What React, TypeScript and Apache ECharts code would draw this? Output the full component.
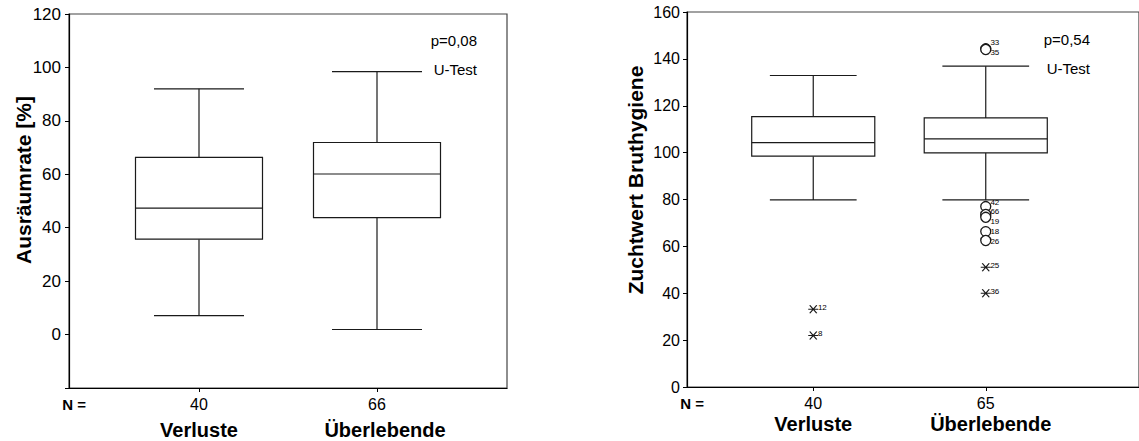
import React, { useEffect, useRef } from "react";
import * as echarts from "echarts";

const categories = ["Verluste", "Überlebende"];
const removalN = ["40", "66"];
const breedN = ["40", "65"];

// [min whisker, Q1, median, Q3, max whisker]
const removalVerluste = [7.1, 35.7, 47.3, 66.3, 92.0];
const removalUeberlebende = [1.9, 43.8, 60.1, 71.9, 98.4];
const breedVerluste = [79.8, 98.5, 104.3, 115.4, 132.9];
const breedUeberlebende = [79.8, 99.9, 105.9, 114.8, 136.9];

// outliers (circles) and extremes (asterisks): [category index, value, case label]
const breedOutliers: [number, number, string][] = [
  [1, 144.3, "33"],
  [1, 144.0, "35"],
  [1, 77.0, "42"],
  [1, 73.6, "66"],
  [1, 72.4, "19"],
  [1, 66.3, "18"],
  [1, 62.5, "26"],
];
const breedExtremes: [number, number, string][] = [
  [0, 33.2, "12"],
  [0, 22.0, "8"],
  [1, 51.1, "25"],
  [1, 40.0, "36"],
];

const removalTicks = [0, 20, 40, 60, 80, 100, 120];
const breedTicks = [0, 20, 40, 60, 80, 100, 120, 140, 160];

const FONT = "'Liberation Sans', Arial, Helvetica, sans-serif";
const STROKE = "#1a1a1a";

function makeBoxRender(boxFrac: number, capFrac: number) {
  return (params: any, api: any) => {
    const x = api.value(0);
    const lo = api.coord([x, api.value(1)]);
    const q1 = api.coord([x, api.value(2)]);
    const md = api.coord([x, api.value(3)]);
    const q3 = api.coord([x, api.value(4)]);
    const hi = api.coord([x, api.value(5)]);
    const band = api.size([1, 0])[0];
    const bw = band * boxFrac;
    const cw = band * capFrac;
    const cx = lo[0];
    const st = { stroke: STROKE, lineWidth: 1.2 };
    return {
      type: "group",
      children: [
        { type: "line", shape: { x1: cx, y1: hi[1], x2: cx, y2: q3[1] }, style: st },
        { type: "line", shape: { x1: cx, y1: q1[1], x2: cx, y2: lo[1] }, style: st },
        { type: "line", shape: { x1: cx - cw / 2, y1: hi[1], x2: cx + cw / 2, y2: hi[1] }, style: st },
        { type: "line", shape: { x1: cx - cw / 2, y1: lo[1], x2: cx + cw / 2, y2: lo[1] }, style: st },
        {
          type: "rect",
          shape: { x: cx - bw / 2, y: q3[1], width: bw, height: q1[1] - q3[1] },
          style: { fill: "#fff", stroke: STROKE, lineWidth: 1.2 },
        },
        { type: "line", shape: { x1: cx - bw / 2, y1: md[1], x2: cx + bw / 2, y2: md[1] }, style: st },
      ],
    };
  };
}

const STAR = "path://M0,5L10,5M1.5,0.5L8.5,9.5M1.5,9.5L8.5,0.5";

// small per-label vertical nudges (px) so that crowded case numbers stay readable
const labelNudge: Record<string, number> = {
  "33": -6,
  "35": 3,
  "42": -4.5,
  "66": -3.5,
  "19": 3.7,
  "18": -0.6,
  "26": 0.5,
};

export default function App() {
  const ref = useRef<HTMLDivElement>(null);

  useEffect(() => {
    document.body.style.margin = "0";
    const chart = echarts.init(ref.current!, null, { renderer: "svg" });

    const hiddenY = (min: number, max: number, grid: number) => ({
      type: "value",
      gridIndex: grid,
      min,
      max,
      show: false,
      splitLine: { show: false },
    });

    const frameX = (grid: number) => ({
      type: "value",
      gridIndex: grid,
      min: 0,
      max: 1,
      axisLine: { show: true, onZero: false, lineStyle: { color: "#000", width: 1.2 } },
      axisTick: { show: false },
      axisLabel: { show: false },
      splitLine: { show: false },
    });

    const catX = (grid: number, counts: string[], nameLH: number, shift: number) => ({
      type: "category",
      gridIndex: grid,
      data: categories,
      boundaryGap: true,
      axisLine: { show: false, onZero: false },
      axisTick: {
        show: true,
        alignWithLabel: true,
        length: 4,
        lineStyle: { color: "#000", width: 1 },
      },
      axisLabel: {
        margin: 6,
        interval: 0,
        formatter: (v: string, i: number) => `{n|${counts[i]}}\n{c${i}|${v}}`,
        rich: {
          n: { fontFamily: FONT, fontSize: 16, lineHeight: 20, color: "#000" },
          c0: {
            fontFamily: FONT,
            fontSize: 20,
            fontWeight: "bold",
            lineHeight: nameLH,
            color: "#000",
          },
          c1: {
            fontFamily: FONT,
            fontSize: 20,
            fontWeight: "bold",
            lineHeight: nameLH,
            color: "#000",
            padding: [0, 0, 0, shift],
          },
        },
      },
      splitLine: { show: false },
    });

    const valueY = (grid: number, min: number, max: number, ticks: number[], fs: number, margin: number) => ({
      type: "value",
      gridIndex: grid,
      min,
      max,
      interval: 20,
      axisLine: { show: true, onZero: false, lineStyle: { color: "#000", width: 1.2 } },
      axisTick: { show: true, length: 4, inside: false, lineStyle: { color: "#000" } },
      axisLabel: {
        margin,
        fontFamily: FONT,
        fontSize: fs,
        color: "#000",
        formatter: (v: number) => (ticks.indexOf(v) >= 0 ? String(v) : ""),
      },
      splitLine: { show: false },
    });

    const text = (x: number, y: number, t: string, fs: number, extra: any = {}, rotation = 0) => ({
      type: "text",
      x,
      y,
      rotation,
      silent: true,
      style: {
        text: t,
        fontFamily: FONT,
        fontSize: fs,
        fill: "#000",
        align: "right",
        verticalAlign: "middle",
        ...extra,
      },
    });

    const outlierLabel = {
      show: true,
      position: "right",
      distance: 0,
      fontFamily: FONT,
      fontSize: 8,
      lineHeight: 8,
      color: "#000",
      textBorderWidth: 0,
      formatter: (p: any) => (Array.isArray(p.value) ? p.value[2] : ""),
    };

    const toItems = (rows: [number, number, string][]) =>
      rows.map((r) => ({
        value: r,
        label: {
          color: "#000",
          offset: [-1, labelNudge[r[2]] !== undefined ? labelNudge[r[2]] : -2],
        },
      }));

    chart.setOption({
      animation: false,
      backgroundColor: "#fff",
      grid: [
        { left: 69, top: 14, width: 438, height: 374, show: true, borderColor: "#444", borderWidth: 1.2, backgroundColor: "transparent" },
        { left: 110, top: 14, width: 356, height: 374 },
        { left: 687, top: 12, width: 520, height: 375, show: true, borderColor: "#444", borderWidth: 1.2, backgroundColor: "transparent" },
        { left: 727, top: 12, width: 345, height: 375 },
      ],
      xAxis: [frameX(0), catX(1, removalN, 32, 16), frameX(2), catX(3, breedN, 22, 10)],
      yAxis: [
        valueY(0, -20, 120, removalTicks, 17, 8),
        hiddenY(-20, 120, 1),
        valueY(2, 0, 160, breedTicks, 16, 7),
        hiddenY(0, 160, 3),
      ],
      graphic: [
        text(74, 404, "N =", 15, { align: "center", fontWeight: "bold" }),
        text(692, 403, "N =", 15, { align: "center", fontWeight: "bold" }),
        text(23, 180, "Ausräumrate [%]", 21, { align: "center", fontWeight: "bold" }, Math.PI / 2),
        text(635, 180, "Zuchtwert Bruthygiene", 21, { align: "center", fontWeight: "bold" }, Math.PI / 2),
        text(477, 40, "p=0,08", 15),
        text(477, 69, "U-Test", 15),
        text(1090, 39, "p=0,54", 15),
        text(1090, 68, "U-Test", 15),
      ],
      series: [
        {
          type: "custom",
          xAxisIndex: 1,
          yAxisIndex: 1,
          renderItem: makeBoxRender(127 / 178, 90 / 178),
          encode: { x: 0, y: [1, 2, 3, 4, 5] },
          data: [
            [0, ...removalVerluste],
            [1, ...removalUeberlebende],
          ],
          z: 3,
        },
        {
          type: "custom",
          xAxisIndex: 3,
          yAxisIndex: 3,
          renderItem: makeBoxRender(123 / 172.4, 86.7 / 172.4),
          encode: { x: 0, y: [1, 2, 3, 4, 5] },
          data: [
            [0, ...breedVerluste],
            [1, ...breedUeberlebende],
          ],
          z: 3,
        },
        {
          type: "scatter",
          xAxisIndex: 3,
          yAxisIndex: 3,
          symbol: "circle",
          symbolSize: 10,
          itemStyle: { color: "#fff", borderColor: STROKE, borderWidth: 1.3, opacity: 1 },
          label: outlierLabel,
          data: toItems(breedOutliers),
          z: 4,
        },
        {
          type: "scatter",
          xAxisIndex: 3,
          yAxisIndex: 3,
          symbol: STAR,
          symbolSize: [10, 8],
          itemStyle: { color: "transparent", borderColor: STROKE, borderWidth: 1.2, opacity: 1 },
          label: outlierLabel,
          data: toItems(breedExtremes),
          z: 4,
        },
      ],
    });

    return () => chart.dispose();
  }, []);

  return (
    <div
      ref={ref}
      style={{ position: "fixed", left: 0, top: 0, width: 1139, height: 441 }}
    />
  );
}
